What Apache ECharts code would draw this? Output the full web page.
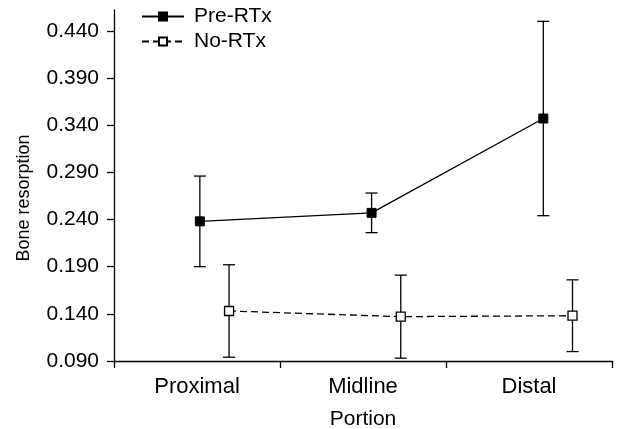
<!DOCTYPE html>
<html>
<head>
<meta charset="utf-8">
<script src="https://cdn.jsdelivr.net/npm/echarts@6/dist/echarts.min.js"></script>
<style>
  html, body { margin: 0; padding: 0; background: #fff; }
  #chart { width: 634px; height: 429px; }
</style>
</head>
<body>
<div id="chart"></div>
<script>
// Bone resorption by portion, mean ± error
const categories = ['Proximal', 'Midline', 'Distal'];
const preMean = [0.238, 0.247, 0.347];
const preErr = [0.048, 0.021, 0.103];
const noMean = [0.143, 0.137, 0.138];
const noErr = [0.049, 0.044, 0.038];
const yTicks = [0.090, 0.140, 0.190, 0.240, 0.290, 0.340, 0.390, 0.440];

const FONT = 'Liberation Sans, Arial, Helvetica, sans-serif';
const NO_SHIFT = 0.17; // horizontal dodge for the second group

function points(means, shift) {
  return means.map((v, i) => [i + 1 + shift, v]);
}
function bars(means, errs, shift) {
  return means.map((v, i) => [i + 1 + shift, v - errs[i], v + errs[i]]);
}

function renderErr(params, api) {
  const x = api.value(0);
  const top = api.coord([x, api.value(2)]);
  const bot = api.coord([x, api.value(1)]);
  const hw = 6;
  const st = { stroke: '#000', lineWidth: 1.3 };
  return {
    type: 'group',
    children: [
      { type: 'line', shape: { x1: top[0], y1: top[1], x2: bot[0], y2: bot[1] }, style: st },
      { type: 'line', shape: { x1: top[0] - hw, y1: top[1], x2: top[0] + hw, y2: top[1] }, style: st },
      { type: 'line', shape: { x1: bot[0] - hw, y1: bot[1], x2: bot[0] + hw, y2: bot[1] }, style: st }
    ]
  };
}

const chart = echarts.init(document.getElementById('chart'), null, { renderer: 'canvas' });
chart.setOption({
  animation: false,
  backgroundColor: '#fff',
  textStyle: { fontFamily: FONT, color: '#000' },
  grid: { left: 114, right: 22, top: 10, bottom: 68, containLabel: false, outerBoundsMode: 'none' },
  legend: {
    data: ['Pre-RTx', 'No-RTx'],
    orient: 'vertical',
    left: 141,
    top: 6,
    padding: 0,
    itemWidth: 42,
    itemHeight: 10,
    itemGap: 4,
    textStyle: { fontFamily: FONT, fontSize: 21, color: '#000', padding: [0, 0, 0, 5] }
  },
  xAxis: [
    {
      type: 'category',
      data: categories,
      boundaryGap: true,
      name: 'Portion',
      nameLocation: 'middle',
      nameGap: 48,
      nameTextStyle: { fontFamily: FONT, fontSize: 21, color: '#000' },
      axisLine: { lineStyle: { color: '#000', width: 1.3 } },
      axisTick: { show: true, length: 7, inside: false, lineStyle: { color: '#000', width: 1.3 } },
      axisLabel: { fontFamily: FONT, fontSize: 22, color: '#000', margin: 15 },
      splitLine: { show: false }
    },
    {
      type: 'value',
      min: 0.5,
      max: 3.4,
      show: false
    }
  ],
  yAxis: {
    type: 'value',
    min: 0.090,
    max: 0.462,
    axisLine: { show: true, lineStyle: { color: '#000', width: 1.3 } },
    axisTick: { show: true, length: 7, customValues: yTicks, lineStyle: { color: '#000', width: 1.3 } },
    axisLabel: {
      customValues: yTicks,
      fontFamily: FONT, fontSize: 21, color: '#000', margin: 15,
      formatter: v => v.toFixed(3)
    },
    splitLine: { show: false }
  },
  graphic: [
    {
      type: 'text',
      x: 24,
      y: 198,
      rotation: Math.PI / 2,
      style: {
        text: 'Bone resorption',
        fontSize: 18,
        fontFamily: FONT,
        fill: '#000',
        align: 'center',
        verticalAlign: 'middle'
      }
    }
  ],
  series: [
    {
      name: 'Pre-RTx-err',
      type: 'custom',
      xAxisIndex: 1,
      renderItem: renderErr,
      encode: { x: 0, y: [1, 2] },
      data: bars(preMean, preErr, 0),
      z: 1
    },
    {
      name: 'No-RTx-err',
      type: 'custom',
      xAxisIndex: 1,
      renderItem: renderErr,
      encode: { x: 0, y: [1, 2] },
      data: bars(noMean, noErr, NO_SHIFT),
      z: 1
    },
    {
      name: 'Pre-RTx',
      type: 'line',
      xAxisIndex: 1,
      data: points(preMean, 0),
      symbol: 'rect',
      symbolSize: 9,
      showAllSymbol: true,
      lineStyle: { color: '#000', width: 1.3, type: 'solid' },
      itemStyle: { color: '#000', borderColor: '#000', borderWidth: 1 },
      z: 3
    },
    {
      name: 'No-RTx',
      type: 'line',
      xAxisIndex: 1,
      data: points(noMean, NO_SHIFT),
      symbol: 'rect',
      symbolSize: 9,
      showAllSymbol: true,
      lineStyle: { color: '#000', width: 1.3, type: [7, 4] },
      itemStyle: { color: '#fff', borderColor: '#000', borderWidth: 1.3 },
      z: 3
    }
  ]
});
</script>
</body>
</html>
